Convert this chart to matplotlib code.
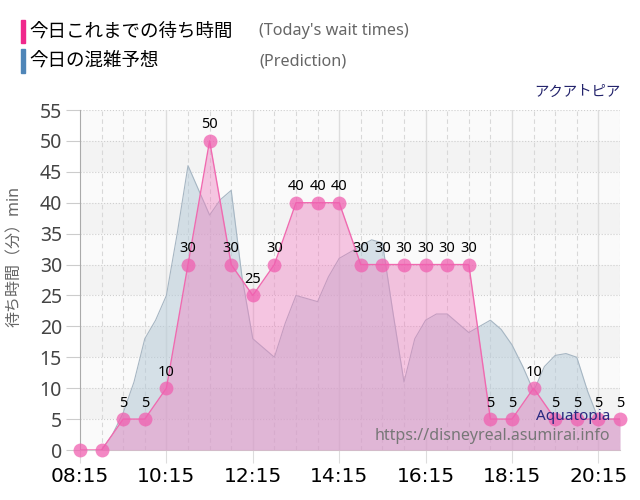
import matplotlib
matplotlib.use("Agg")
import matplotlib.pyplot as plt
from matplotlib.patches import Rectangle

plt.rcParams['font.family'] = ['Noto Sans', 'Noto Sans CJK JP', 'DejaVu Sans']

# minutes after 08:15
actual_minutes = list(range(0, 751, 30))
actual_wait = [0, 0, 5, 5, 10, 30, 50, 30, 25, 30, 40, 40, 40,
               30, 30, 30, 30, 30, 30, 5, 5, 10, 5, 5, 5, 5]

# prediction every 15 min from 08:45 to 20:45
pred_minutes = list(range(30, 751, 15))
pred_wait = [0, 2.5, 6, 11, 18, 21, 25, 35, 46, 42, 38, 40.5, 42,
             28, 18, 16.5, 15, 20.5, 25, 24.5, 24, 28, 31, 32, 33,
             34, 33.5, 22, 11, 18, 21, 22, 22, 20.5, 19, 20, 21, 19.5,
             17, 13.5, 9.5, 13.5, 15.3, 15.6, 15, 9.5, 5, 5, 5]

tick_minutes = [0, 120, 240, 360, 480, 600, 720]
tick_labels = ["08:15", "10:15", "12:15", "14:15", "16:15", "18:15", "20:15"]

fig = plt.figure(figsize=(6.4, 5), dpi=100)
ax = fig.add_axes([80 / 640, 50 / 500, 540 / 640, 340 / 500])

# background bands
for lo in range(0, 55, 5):
    shade = "#f3f3f3" if (lo // 5) % 2 == 1 else "#fafafa"
    ax.axhspan(lo, lo + 5, color=shade, zorder=0, lw=0)

for y in range(5, 56, 5):
    ax.axhline(y, color="#cfcfcf", lw=0.8, ls=":", zorder=1)
for m in range(30, 751, 30):
    if m % 120 == 0:
        ax.axvline(m, color="#dddddd", lw=1.0, zorder=1)
    else:
        ax.axvline(m, color="#d8d8d8", lw=0.8, ls=(0, (4, 3)), zorder=1)

# prediction
ax.fill_between(pred_minutes, pred_wait, color="#b7cbd8", alpha=0.55,
                lw=0, zorder=2)
ax.plot(pred_minutes, pred_wait, color="#a6b6c3", lw=0.8, zorder=3)

# today's wait times
ax.fill_between(actual_minutes, actual_wait, color="#f07cbf", alpha=0.42,
                lw=0, zorder=4)
ax.plot(actual_minutes, actual_wait, color="#f06ab0", lw=1.0, zorder=5)
ax.plot(actual_minutes, actual_wait, ls="none", marker="o", markersize=10,
        markerfacecolor="#f060b0", markeredgewidth=0, alpha=0.75,
        zorder=6, clip_on=False)

for m, v in zip(actual_minutes, actual_wait):
    if v == 0:
        continue
    ax.annotate(str(v), (m, v), xytext=(0, 9), textcoords="offset points",
                ha="center", va="baseline", fontsize=10.5, color="black",
                zorder=7)

ax.set_xlim(0, 750)
ax.set_ylim(0, 55)
ax.set_yticks(range(0, 56, 5))
ax.set_xticks(tick_minutes)
ax.set_xticklabels(tick_labels, family="DejaVu Sans")
ax.tick_params(axis="y", labelsize=14, labelcolor="#444444", length=10,
               color="#cccccc", pad=3)
ax.tick_params(axis="x", labelsize=14.5, labelcolor="black", length=9,
               color="#dddddd", pad=3)

for side in ["top", "right"]:
    ax.spines[side].set_visible(False)
ax.spines["left"].set_color("#aaaaaa")
ax.spines["bottom"].set_color("#cccccc")

ax.set_ylabel("待ち時間（分）min", fontsize=11.5, color="#666666")
ax.yaxis.set_label_coords(-0.105, 0.57)

# legend
fig.patches.append(Rectangle((20.5 / 640, 1 - 43 / 500), 4.5 / 640, 23 / 500,
                             transform=fig.transFigure, color="#f0288c"))
fig.patches.append(Rectangle((20.5 / 640, 1 - 73 / 500), 4.5 / 640, 24 / 500,
                             transform=fig.transFigure, color="#4f86b8"))
fig.text(29 / 640, 1 - 32 / 500, "今日これまでの待ち時間", fontsize=13.3,
         va="center", ha="left", color="black")
fig.text(29 / 640, 1 - 61 / 500, "今日の混雑予想", fontsize=13.3,
         va="center", ha="left", color="black")
fig.text(259 / 640, 1 - 31 / 500, "(Today's wait times)", fontsize=11.7,
         va="center", ha="left", color="#666666")
fig.text(259 / 640, 1 - 61 / 500, "(Prediction)", fontsize=11.7,
         va="center", ha="left", color="#666666")

fig.text(620 / 640, 1 - 92 / 500, "アクアトピア", fontsize=10.4,
         va="center", ha="right", color="#22226b")
fig.text(610 / 640, 1 - 416 / 500, "Aquatopia", fontsize=11,
         va="center", ha="right", color="#2a2a80", zorder=8)
fig.text(610 / 640, 1 - 436 / 500, "https://disneyreal.asumirai.info",
         fontsize=11.5, va="center", ha="right", color="#777777", zorder=8)

fig.savefig("out.png", dpi=100)
